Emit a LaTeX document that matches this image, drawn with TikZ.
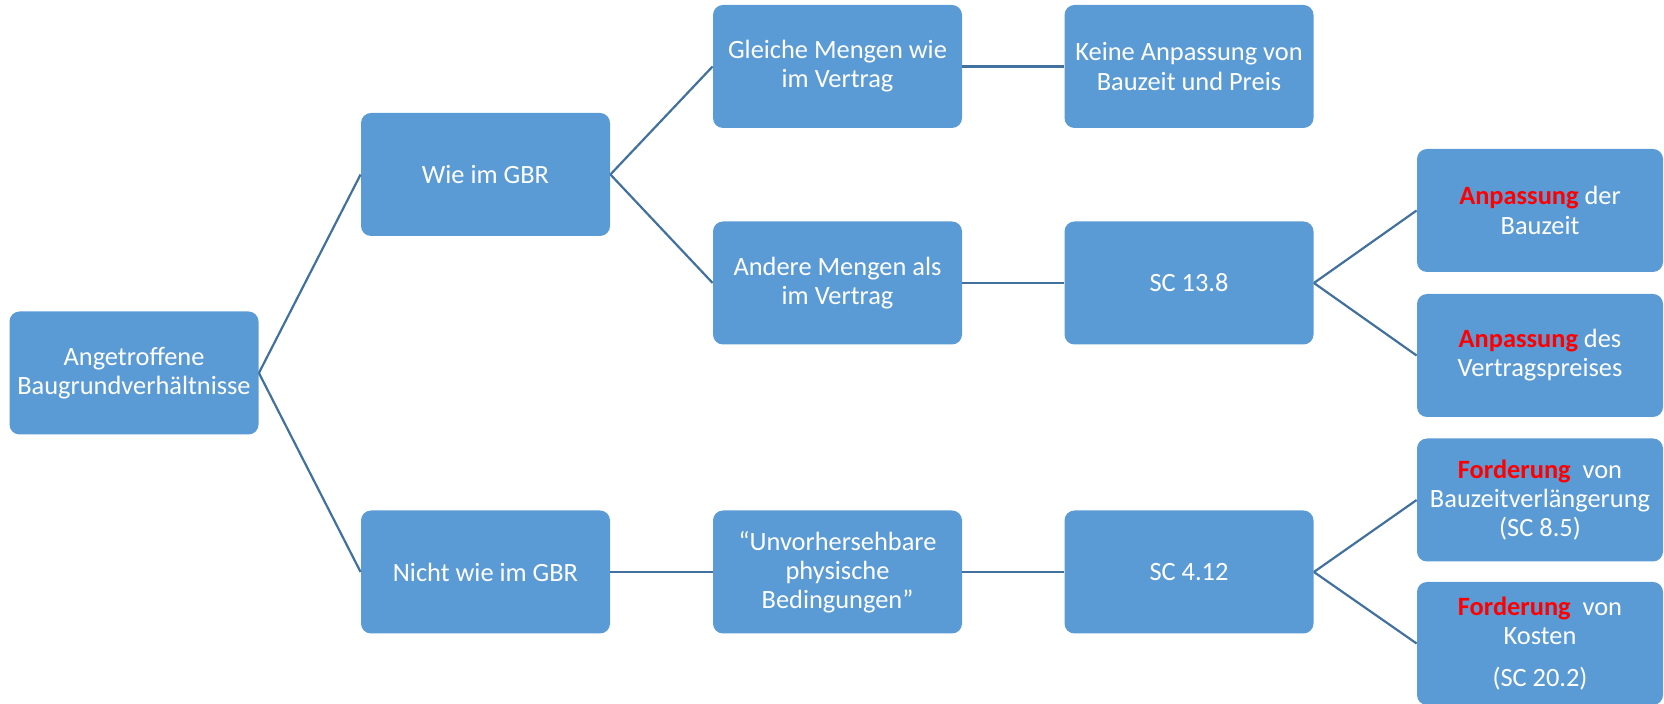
\documentclass[tikz,border=0pt]{standalone}
\usepackage{fontspec}
\setmainfont{Carlito}
\definecolor{boxblue}{HTML}{5B9BD5}
\definecolor{linkblue}{HTML}{41719C}
\definecolor{hotred}{HTML}{FF0000}
\newcommand{\hi}[1]{{\bfseries\color{hotred}#1}}
\begin{document}
\begin{tikzpicture}[x=0.5pt,y=-0.5pt,
    box/.style={rectangle,rounded corners=5pt,fill=boxblue,text=white,align=center,
        minimum width=124.5pt,minimum height=61.5pt,inner sep=2pt,
        font=\fontsize{13.2}{14.6}\selectfont},
    endbox/.style={box,minimum width=123pt},
    link/.style={draw=linkblue,line width=1.1pt}]

    \useasboundingbox (0,0) rectangle (1664,704);

    % Root
    \node[box] (ang) at (134,373) {Angetroffene\\Baugrundverhältnisse};

    % Second level
    \node[box] (wie) at (485.5,174.5) {Wie im GBR};
    \node[box] (nicht) at (485.5,572) {Nicht wie im GBR};

    % Third level
    \node[box] (gleich) at (837.5,66.5) {Gleiche Mengen wie\\im Vertrag};
    \node[box] (andere) at (837.5,283) {Andere Mengen als\\im Vertrag};
    \node[box] (unvor) at (837.5,572) {“Unvorhersehbare\\physische\\Bedingungen”};

    % Fourth level
    \node[box] (keine) at (1189,66.5) {Keine Anpassung von\\Bauzeit und Preis};
    \node[box] (sc138) at (1189,283) {SC 13.8};
    \node[box] (sc412) at (1189,572) {SC 4.12};

    % Consequences
    \node[endbox] (anpzeit) at (1540,210.5) {\hi{Anpassung} der\\Bauzeit};
    \node[endbox] (anppreis) at (1540,355.5) {\hi{Anpassung} des\\Vertragspreises};
    \node[endbox] (fordzeit) at (1540,500) {\hi{Forderung}\ \ von\\Bauzeitverlängerung\\(SC 8.5)};
    \node[endbox] (fordkost) at (1540,643.5) {\hi{Forderung}\ \ von\\Kosten\\[6pt](SC 20.2)};

    % Connectors
    \draw[link] (ang.east) -- (wie.west);
    \draw[link] (ang.east) -- (nicht.west);
    \draw[link] (wie.east) -- (gleich.west);
    \draw[link] (wie.east) -- (andere.west);
    \draw[link] (nicht.east) -- (unvor.west);
    \draw[link] (gleich.east) -- (keine.west);
    \draw[link] (andere.east) -- (sc138.west);
    \draw[link] (unvor.east) -- (sc412.west);
    \draw[link] (sc138.east) -- (anpzeit.west);
    \draw[link] (sc138.east) -- (anppreis.west);
    \draw[link] (sc412.east) -- (fordzeit.west);
    \draw[link] (sc412.east) -- (fordkost.west);
\end{tikzpicture}
\end{document}
